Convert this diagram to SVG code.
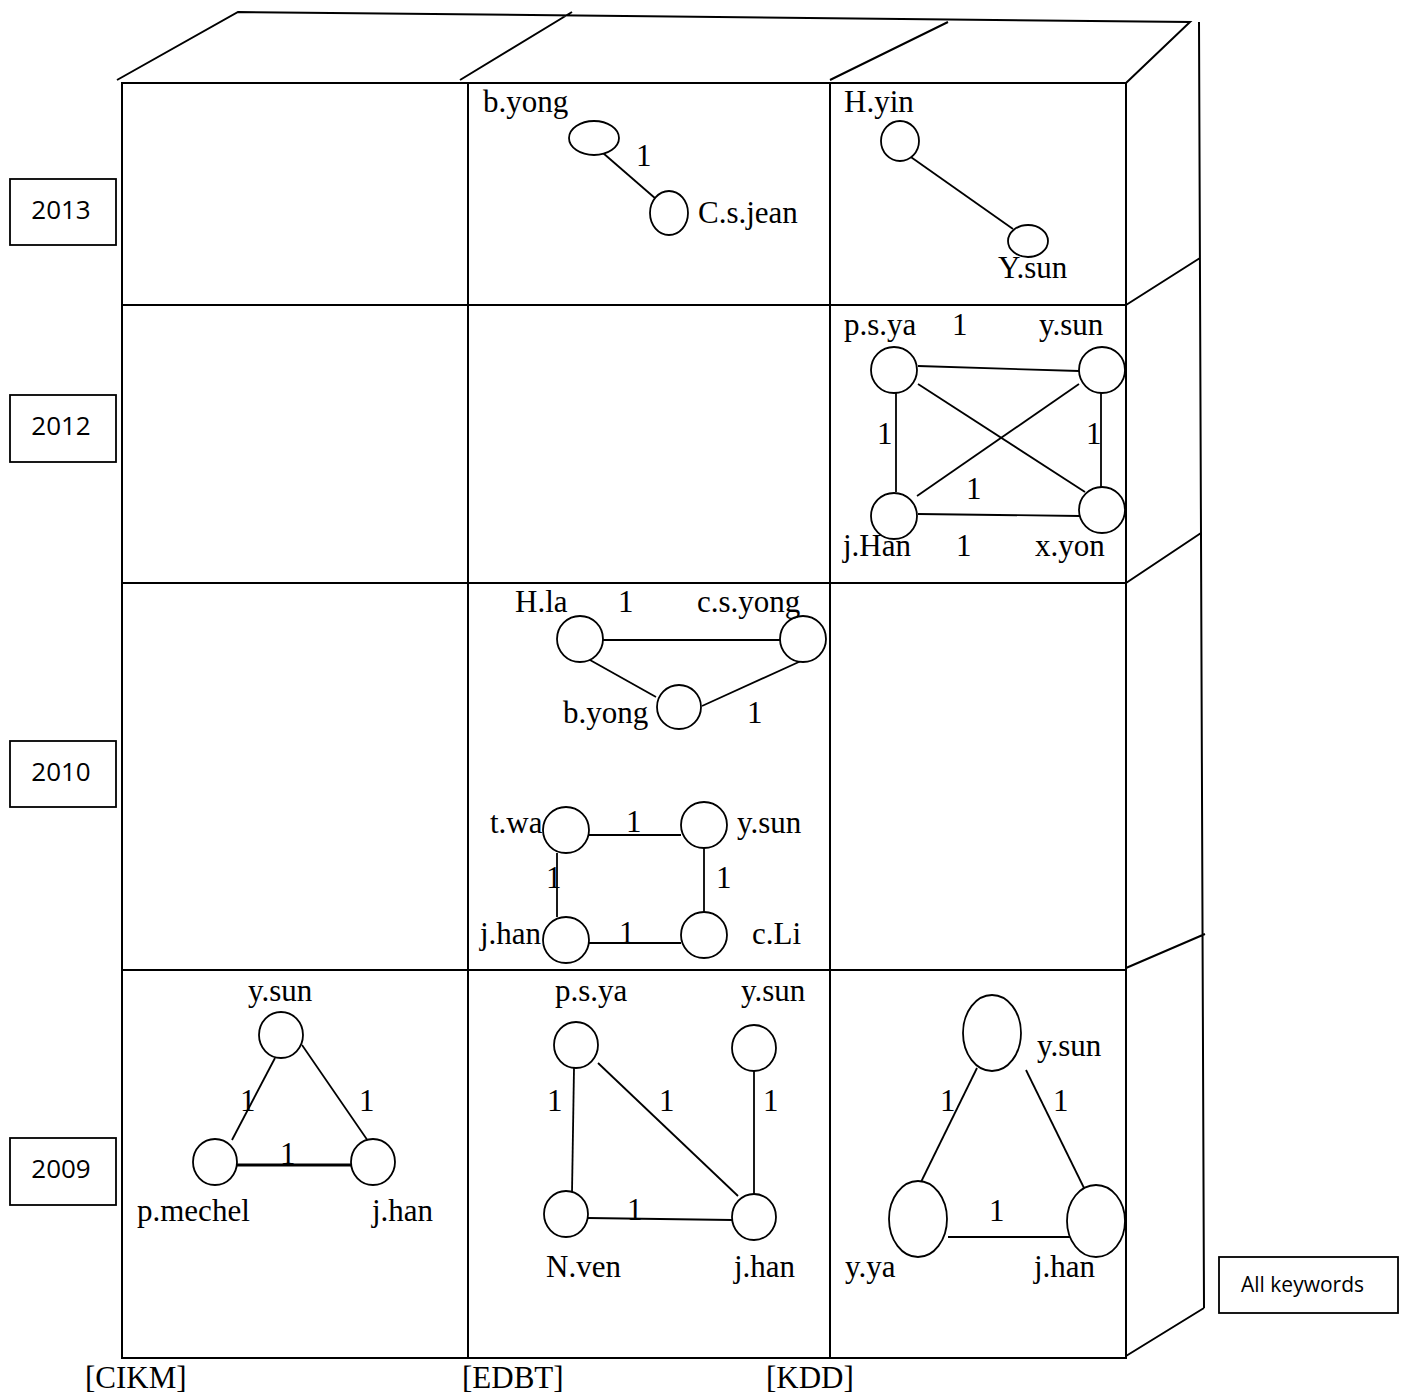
<svg xmlns="http://www.w3.org/2000/svg" width="1406" height="1394" viewBox="0 0 1406 1394">
<style>
.g{fill:none;stroke:#000;stroke-width:2}
.e{fill:none;stroke:#000;stroke-width:1.8}
.n{fill:#fff;stroke:#000;stroke-width:1.8}
.t{font-family:"Liberation Serif","Times New Roman",serif;font-size:31px;fill:#000}
.y{font-family:"Open Sans","Liberation Sans",sans-serif;font-size:26px;fill:#000}
.b{fill:#fff;stroke:#000;stroke-width:1.8}
</style>
<rect width="1406" height="1394" fill="#fff"/>
<g id="frame">
<path class="g" d="M122,83H1126V1358H122Z"/>
<path class="g" d="M468,83V1358M830,83V1358M122,305H1126M122,583H1126M122,970H1126"/>
<path class="g" d="M117,80L238,12L1190,22L1126,83M460,80L572,12M830,80L948,22"/>
<path class="g" d="M1199,22L1204,1308M1126,305L1200,258M1126,583L1201,533M1126,968L1205,934M1126,1356L1204,1308"/>
</g>
<g id="years">
<g id="y2013"><rect class="b" x="10" y="179" width="106" height="66"/><text class="y" x="61" y="219" text-anchor="middle">2013</text></g>
<g id="y2012"><rect class="b" x="10" y="395" width="106" height="67"/><text class="y" x="61" y="435" text-anchor="middle">2012</text></g>
<g id="y2010"><rect class="b" x="10" y="741" width="106" height="66"/><text class="y" x="61" y="781" text-anchor="middle">2010</text></g>
<g id="y2009"><rect class="b" x="10" y="1138" width="106" height="67"/><text class="y" x="61" y="1178" text-anchor="middle">2009</text></g>
<g id="allkw"><rect class="b" x="1219" y="1257" width="179" height="56"/><text class="y" x="1241" y="1292" style="font-size:21px">All keywords</text></g>
</g>
<g id="venues">
<text class="t" x="85" y="1388">[CIKM]</text>
<text class="t" x="462" y="1388">[EDBT]</text>
<text class="t" x="766" y="1388">[KDD]</text>
</g>
<g id="connectors">
<line class="e" x1="603" y1="153" x2="656" y2="199"/>
<line class="e" x1="908" y1="155" x2="1013" y2="229"/>
<line class="e" x1="918" y1="366" x2="1079" y2="371"/>
<line class="e" x1="918" y1="384" x2="1085" y2="492"/>
<line class="e" x1="1079" y1="384" x2="917" y2="496"/>
<line class="e" x1="896" y1="393" x2="896" y2="492"/>
<line class="e" x1="1101" y1="393" x2="1101" y2="487"/>
<line class="e" x1="918" y1="514" x2="1080" y2="516"/>
<line class="e" x1="603" y1="640" x2="787" y2="640"/>
<line class="e" x1="590" y1="660" x2="656" y2="697"/>
<line class="e" x1="702" y1="706" x2="801" y2="661"/>
<line class="e" x1="589" y1="835" x2="681" y2="835"/>
<line class="e" x1="557" y1="853" x2="557" y2="917"/>
<line class="e" x1="704" y1="848" x2="704" y2="912"/>
<line class="e" x1="589" y1="943" x2="681" y2="943"/>
<line class="e" x1="275" y1="1058" x2="232" y2="1140"/>
<line class="e" x1="302" y1="1045" x2="368" y2="1141"/>
<line class="e" x1="237" y1="1165" x2="351" y2="1165" style="stroke-width:3"/>
<line class="e" x1="574" y1="1068" x2="572" y2="1193"/>
<line class="e" x1="598" y1="1063" x2="738" y2="1196"/>
<line class="e" x1="754" y1="1071" x2="754" y2="1194"/>
<line class="e" x1="588" y1="1218" x2="732" y2="1220"/>
<line class="e" x1="977" y1="1068" x2="921" y2="1182"/>
<line class="e" x1="1026" y1="1070" x2="1085" y2="1190"/>
<line class="e" x1="948" y1="1237" x2="1072" y2="1237"/>
</g>
<g id="edge-labels">
<text class="t" x="636" y="166">1</text>
<text class="t" x="952" y="335">1</text>
<text class="t" x="877" y="444">1</text>
<text class="t" x="1086" y="444">1</text>
<text class="t" x="966" y="499">1</text>
<text class="t" x="956" y="556">1</text>
<text class="t" x="618" y="612">1</text>
<text class="t" x="747" y="723">1</text>
<text class="t" x="626" y="832">1</text>
<text class="t" x="546" y="888">1</text>
<text class="t" x="716" y="888">1</text>
<text class="t" x="619" y="943">1</text>
<text class="t" x="240" y="1111">1</text>
<text class="t" x="359" y="1111">1</text>
<text class="t" x="280" y="1164">1</text>
<text class="t" x="547" y="1111">1</text>
<text class="t" x="659" y="1111">1</text>
<text class="t" x="763" y="1111">1</text>
<text class="t" x="627" y="1220">1</text>
<text class="t" x="940" y="1111">1</text>
<text class="t" x="1053" y="1111">1</text>
<text class="t" x="989" y="1221">1</text>
</g>
<g id="n2013-edbt-byong"><ellipse class="n" cx="594" cy="138" rx="25" ry="17"/><text class="t" x="483" y="112">b.yong</text></g>
<g id="n2013-edbt-csjean"><ellipse class="n" cx="669" cy="213" rx="19" ry="22"/><text class="t" x="698" y="223">C.s.jean</text></g>
<g id="n2013-kdd-hyin"><ellipse class="n" cx="900" cy="141" rx="19" ry="20"/><text class="t" x="844" y="112">H.yin</text></g>
<g id="n2013-kdd-ysun"><ellipse class="n" cx="1028" cy="241" rx="20" ry="16"/><text class="t" x="998" y="278">Y.sun</text></g>
<g id="n2012-kdd-psya"><circle class="n" cx="894" cy="370" r="23"/><text class="t" x="844" y="335">p.s.ya</text></g>
<g id="n2012-kdd-ysun"><circle class="n" cx="1102" cy="370" r="23"/><text class="t" x="1039" y="335">y.sun</text></g>
<g id="n2012-kdd-jhan"><circle class="n" cx="894" cy="516" r="23"/><text class="t" x="843" y="556">j.Han</text></g>
<g id="n2012-kdd-xyon"><circle class="n" cx="1102" cy="510" r="23"/><text class="t" x="1035" y="556">x.yon</text></g>
<g id="n2010-edbt-hla"><circle class="n" cx="580" cy="639" r="23"/><text class="t" x="515" y="612">H.la</text></g>
<g id="n2010-edbt-csyong"><circle class="n" cx="803" cy="639" r="23"/><text class="t" x="697" y="612">c.s.yong</text></g>
<g id="n2010-edbt-byong"><circle class="n" cx="679" cy="707" r="22"/><text class="t" x="563" y="723">b.yong</text></g>
<g id="n2010-edbt-twa"><text class="t" x="490" y="833">t.wa</text><circle class="n" cx="566" cy="830" r="23"/></g>
<g id="n2010-edbt-ysun"><circle class="n" cx="704" cy="825" r="23"/><text class="t" x="737" y="833">y.sun</text></g>
<g id="n2010-edbt-jhan"><text class="t" x="480" y="944">j.han</text><circle class="n" cx="566" cy="940" r="23"/></g>
<g id="n2010-edbt-cli"><circle class="n" cx="704" cy="935" r="23"/><text class="t" x="752" y="944">c.Li</text></g>
<g id="n2009-cikm-ysun"><ellipse class="n" cx="281" cy="1035" rx="22" ry="23"/><text class="t" x="248" y="1001">y.sun</text></g>
<g id="n2009-cikm-pmechel"><ellipse class="n" cx="215" cy="1162" rx="22" ry="23"/><text class="t" x="137" y="1221">p.mechel</text></g>
<g id="n2009-cikm-jhan"><ellipse class="n" cx="373" cy="1162" rx="22" ry="23"/><text class="t" x="372" y="1221">j.han</text></g>
<g id="n2009-edbt-psya"><ellipse class="n" cx="576" cy="1045" rx="22" ry="23"/><text class="t" x="555" y="1001">p.s.ya</text></g>
<g id="n2009-edbt-ysun"><ellipse class="n" cx="754" cy="1048" rx="22" ry="23"/><text class="t" x="741" y="1001">y.sun</text></g>
<g id="n2009-edbt-nven"><ellipse class="n" cx="566" cy="1214" rx="22" ry="23"/><text class="t" x="546" y="1277">N.ven</text></g>
<g id="n2009-edbt-jhan"><ellipse class="n" cx="754" cy="1217" rx="22" ry="23"/><text class="t" x="734" y="1277">j.han</text></g>
<g id="n2009-kdd-ysun"><ellipse class="n" cx="992" cy="1033" rx="29" ry="38"/><text class="t" x="1037" y="1056">y.sun</text></g>
<g id="n2009-kdd-yya"><ellipse class="n" cx="918" cy="1219" rx="29" ry="38"/><text class="t" x="845" y="1277">y.ya</text></g>
<g id="n2009-kdd-jhan"><ellipse class="n" cx="1096" cy="1221" rx="29" ry="36"/><text class="t" x="1034" y="1277">j.han</text></g>
</svg>
